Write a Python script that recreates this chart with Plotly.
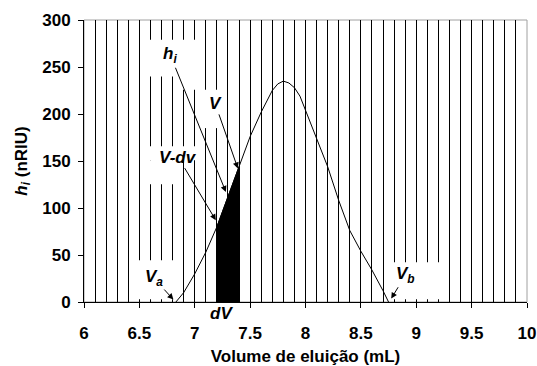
import plotly.graph_objects as go

# Data
vol = [6.83, 6.9, 7.0, 7.1, 7.2, 7.3, 7.4, 7.5, 7.6, 7.7, 7.75, 7.8, 7.85, 7.9,
       7.95, 8.0, 8.05, 8.1, 8.2, 8.3, 8.4, 8.5, 8.6, 8.7, 8.75]
h = [0, 10, 30, 53, 80, 112, 144, 176, 202, 225, 232, 235, 233, 228,
     219, 204, 190, 176, 144, 108, 76, 54, 34, 12, 0]

slice_lo, slice_hi = 7.2, 7.4

# labels with arrows: (text, label x, label y, tip x, tip y)
arrow_labels = [
    ("h<sub>i</sub>", 6.780, 262.5, 7.281, 117.1),
    ("V", 7.184, 211.3, 7.389, 142.1),
    ("V-dv", 6.850, 154.1, 7.190, 87.0),
    ("V<sub>a</sub>", 6.630, 25.5, 6.807, 2.6),
    ("V<sub>b</sub>", 8.905, 29.0, 8.774, 3.6),
]
# label without arrow (below the axis)
dv_label = ("dV", 7.245, -12.5)

# white label backgrounds covering grid lines (x0, x1, y0, y1)
boxes = [
    (6.551, 6.850, 240.0, 279.0),
    (6.850, 7.049, 225.8, 279.0),
    (7.049, 7.248, 185.0, 225.8),
    (6.551, 7.049, 150.9, 165.8),
    (6.551, 6.850, 125.3, 150.9),
    (6.452, 6.850, 2.9, 44.4),
    (8.750, 9.253, 2.9, 42.3),
]

FONT = "Liberation Sans, Arial, sans-serif"
Y_MAX = 300

fig = go.Figure()

# filled slice built from curve points
sx = [v for v in vol if slice_lo - 1e-9 <= v <= slice_hi + 1e-9]
sy = [h[vol.index(v)] for v in sx]
fig.add_trace(go.Scatter(
    x=[slice_lo] + sx + [slice_hi], y=[0] + sy + [0],
    fill="toself", fillcolor="black", mode="lines",
    line=dict(color="black", width=1), hoverinfo="skip", showlegend=False))

fig.add_trace(go.Scatter(x=vol, y=h, mode="lines",
                         line=dict(color="black", width=1), showlegend=False))

shapes = [dict(type="rect", xref="paper", yref="paper", x0=0, x1=1, y0=0, y1=1,
               line=dict(color="#a0a0a0", width=1), layer="below")]
for x0, x1, y0, y1 in boxes:
    shapes.append(dict(type="rect", xref="x", yref="y", x0=x0, x1=x1, y0=y0, y1=y1,
                       fillcolor="white", line=dict(width=0), layer="between"))

lab_font = dict(family=FONT, size=17, color="black", weight="bold", style="italic")
annotations = []
for t, lx, ly, hx, hy in arrow_labels:
    annotations.append(dict(x=hx, y=hy, ax=lx, ay=ly, xref="x", yref="y",
                            axref="x", ayref="y", text=t, showarrow=True,
                            arrowhead=2, arrowsize=1.2, arrowwidth=1,
                            arrowcolor="black", standoff=0, startstandoff=0,
                            font=lab_font))
annotations.append(dict(x=dv_label[1], y=dv_label[2] / Y_MAX, xref="x", yref="paper",
                        xanchor="center", yanchor="middle",
                        text=dv_label[0], showarrow=False, font=lab_font))

tick_font = dict(family=FONT, size=17, color="black", weight="bold")

fig.update_layout(
    width=537, height=366,
    margin=dict(l=84, r=10, t=20, b=64),
    paper_bgcolor="white", plot_bgcolor="white",
    font=dict(family=FONT, size=17, color="black"),
    shapes=shapes, annotations=annotations,
    xaxis=dict(range=[6, 10], dtick=0.5, tick0=6, showgrid=True,
               gridcolor="black", gridwidth=1, automargin=False,
               minor=dict(dtick=0.1, tick0=6, showgrid=True, gridcolor="black",
                          gridwidth=1, ticks=""),
               ticks="outside", ticklen=5, tickcolor="black",
               showline=True, linecolor="black", linewidth=1, zeroline=False,
               ticklabelstandoff=11,
               tickfont=tick_font,
               title=dict(text="Volume de eluição (mL)", standoff=17,
                          font=tick_font)),
    yaxis=dict(range=[0, Y_MAX], dtick=50, showgrid=False, zeroline=False,
               ticks="outside", ticklen=5, tickcolor="black", automargin=False,
               showline=True, linecolor="black", linewidth=1,
               ticklabelstandoff=4,
               tickfont=tick_font,
               title=dict(text="<i>h<sub>i</sub></i> (nRIU)", standoff=10,
                          font=tick_font)),
)

fig.write_html("out.html")
